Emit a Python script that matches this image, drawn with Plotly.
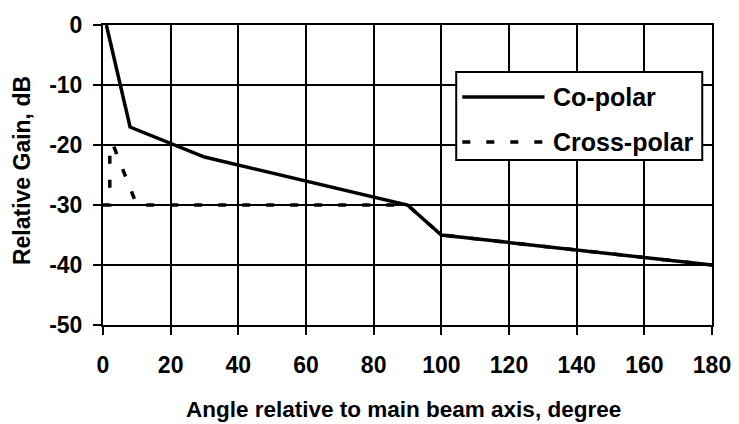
import plotly.graph_objects as go

# Data
co_angle = [1, 8, 30, 90, 100, 180]
co_gain = [0, -17, -22, -30, -35, -40]

cross_angle = [0, 2, 2, 3, 10, 90, 100, 180]
cross_gain = [-30, -30, -20, -20, -30, -30, -35, -40]

x_ticks = [0, 20, 40, 60, 80, 100, 120, 140, 160, 180]
y_ticks = [0, -10, -20, -30, -40, -50]

series_names = ["Co-polar", "Cross-polar"]

FONT = "Liberation Sans, Arial, sans-serif"
DASH = "8px,16px"

fig = go.Figure()
fig.add_trace(go.Scatter(x=cross_angle, y=cross_gain, mode="lines", name=series_names[1],
                         line=dict(color="black", width=3.5, dash=DASH), cliponaxis=False,
                         showlegend=False))
fig.add_trace(go.Scatter(x=co_angle, y=co_gain, mode="lines", name=series_names[0],
                         line=dict(color="black", width=3.5), cliponaxis=False,
                         showlegend=False))

axis_common = dict(showgrid=True, gridcolor="black", gridwidth=2,
                   showline=True, linecolor="black", linewidth=2, mirror=True,
                   ticks="outside", ticklen=8, tickwidth=2, tickcolor="black",
                   zeroline=False, automargin=False,
                   tickfont=dict(family=FONT, size=23, color="black"))

fig.update_xaxes(range=[0, 180], tickvals=x_ticks, ticktext=[f"<b>{v}</b>" for v in x_ticks],
                 ticklabelstandoff=10, **axis_common)
fig.update_yaxes(range=[-50, 0], tickvals=y_ticks, ticktext=[f"<b>{v}</b>" for v in y_ticks],
                 ticklabelstandoff=6, **axis_common)

# Legend drawn as a boxed key
lx0, lx1, ly0, ly1 = 0.580, 0.984, 0.55, 0.843
shapes = [
    dict(type="rect", xref="paper", yref="paper", x0=lx0, x1=lx1, y0=ly0, y1=ly1,
         line=dict(color="black", width=2), fillcolor="white", layer="above"),
    dict(type="line", xref="paper", yref="paper", x0=0.590, x1=0.725, y0=0.76, y1=0.76,
         line=dict(color="black", width=3.5), layer="above"),
    dict(type="line", xref="paper", yref="paper", x0=0.590, x1=0.725, y0=0.61, y1=0.61,
         line=dict(color="black", width=3.5, dash=DASH), layer="above"),
]
annotations = [
    dict(text=f"<b>{series_names[0]}</b>", xref="paper", yref="paper", x=0.735, y=0.76,
         xanchor="left", yanchor="middle", showarrow=False,
         font=dict(family=FONT, size=25, color="black")),
    dict(text=f"<b>{series_names[1]}</b>", xref="paper", yref="paper", x=0.735, y=0.61,
         xanchor="left", yanchor="middle", showarrow=False,
         font=dict(family=FONT, size=25, color="black")),
    dict(text="<b>Angle relative to main beam axis, degree</b>", xref="paper", yref="paper",
         x=0.494, y=-0.283, xanchor="center", yanchor="middle", showarrow=False,
         font=dict(family=FONT, size=22.5, color="black")),
    dict(text="<b>Relative Gain, dB</b>", xref="paper", yref="paper", textangle=-90,
         x=-0.133, y=0.513, xanchor="center", yanchor="middle", showarrow=False,
         font=dict(family=FONT, size=23, color="black")),
]

# The page body adds an 8px margin, so the figure is 8px smaller and margins are shifted
fig.update_layout(width=731, height=416,
                  margin=dict(l=95, r=27, t=17, b=99, autoexpand=False),
                  paper_bgcolor="white", plot_bgcolor="white",
                  shapes=shapes, annotations=annotations, showlegend=False)

fig.write_html("out.html")
